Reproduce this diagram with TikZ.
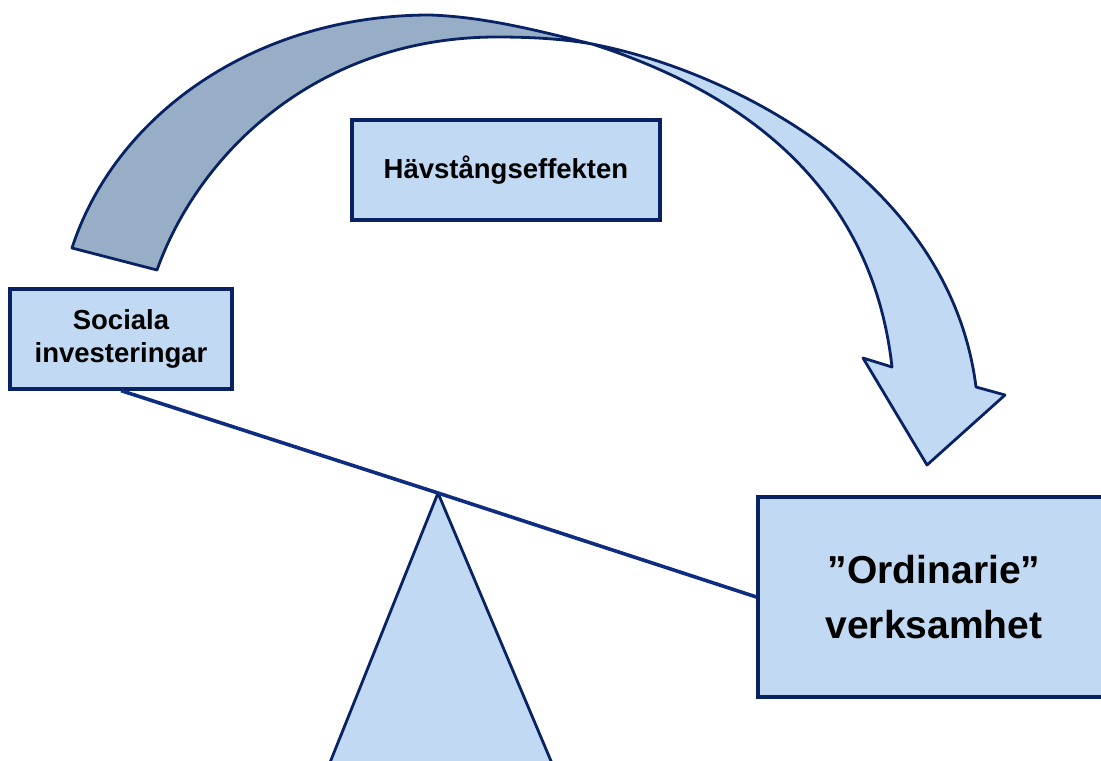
\documentclass[tikz,border=0pt]{standalone}
\usepackage{fontspec}
\setmainfont{Liberation Sans}
\definecolor{boxfill}{RGB}{193,217,242}
\definecolor{backfill}{RGB}{152,174,198}
\definecolor{edge}{RGB}{8,34,100}
\definecolor{beamcol}{RGB}{14,44,128}
\begin{document}
\begin{tikzpicture}[x=0.5pt,y=-0.5pt,
  labelbox/.style={draw=edge, line width=1.6pt, fill=boxfill, inner sep=0pt, align=center},
  smallfont/.style={font=\bfseries\fontsize{13.75}{16.5}\selectfont},
  bigfont/.style={font=\bfseries\fontsize{19.5}{27.5}\selectfont},
  band/.style={draw=edge, line width=1.4pt, line join=round},
  beam/.style={draw=beamcol, line width=1.8pt}]
\useasboundingbox (0,0) rectangle (1101,760);
\clip (0,0) rectangle (1101,760);

% key points of the curved arrow
\coordinate (tailout) at (72,248);
\coordinate (tailin)  at (157,270);
\coordinate (top)     at (430,15);
\coordinate (topin)   at (497,37);
\coordinate (twist)   at (592,44);
\coordinate (notchr)  at (976,387);
\coordinate (barbr)   at (1005,395);
\coordinate (tip)     at (927,465);
\coordinate (barbl)   at (863,358);
\coordinate (notchl)  at (892,367);

% back side of the curved arrow
\path[band, fill=backfill]
  (tailout) .. controls (115,115) and (255,15) .. (top)
            .. controls (490,17) and (550,34) .. (twist)
            .. controls (570,40) and (540,37) .. (topin)
            .. controls (320,37) and (200,150) .. (tailin)
  -- cycle;

% front side of the curved arrow with its head
\path[band, fill=boxfill]
  (twist) .. controls (730,70) and (950,180) .. (notchr)
  -- (barbr) -- (tip) -- (barbl) -- (notchl)
  .. controls (870,170) and (720,85) .. (twist)
  -- cycle;

% fulcrum
\coordinate (pivot) at (438,493);
\path[band, fill=boxfill] (pivot) -- (323,780) -- (559,780) -- cycle;

% labels
\node[labelbox, smallfont, minimum width=154pt, minimum height=50pt] (lever) at (506,170) {Hävstångseffekten};
\node[labelbox, smallfont, minimum width=111pt, minimum height=50pt] (soc) at (121,339) {Sociala\\investeringar};
\node[labelbox, bigfont, minimum width=176pt, minimum height=100pt] (ord) at (934,597) {”Ordinarie”\\verksamhet};

% lever beam
\draw[beam] (soc.south) -- (pivot) -- (ord.west);
\end{tikzpicture}
\end{document}
